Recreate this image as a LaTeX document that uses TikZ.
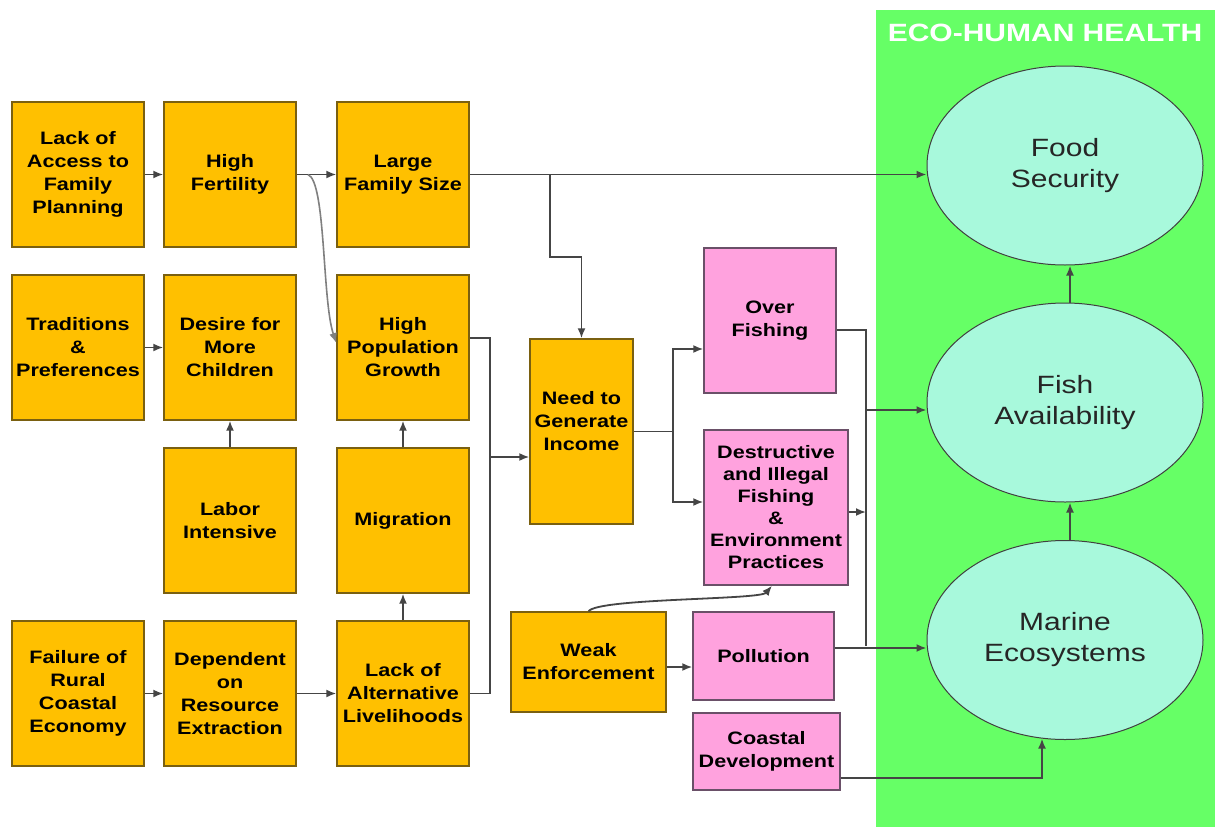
\documentclass[tikz,border=0pt]{standalone}
\usepackage{fontspec}
\setmainfont{Liberation Sans}
\newfontfamily\boxfont[FakeStretch=1.2]{Liberation Sans}
\usetikzlibrary{arrows.meta,shapes.geometric,calc}
\definecolor{orangebox}{HTML}{FFC000}
\definecolor{obord}{HTML}{7A6010}
\definecolor{pinkbox}{HTML}{FFA2DE}
\definecolor{pbord}{HTML}{6A5068}
\definecolor{mint}{HTML}{A8F9DC}
\definecolor{panelgreen}{HTML}{66FF66}
\definecolor{conncol}{HTML}{454545}
\tikzset{
  boxfnt/.style={font={\boxfont\bfseries\fontsize{18}{23}\selectfont}},
  obox/.style={draw=obord, line width=1.4pt, fill=orangebox, minimum width=132pt,
    minimum height=145pt, inner sep=0pt, align=center, text=black, boxfnt},
  pbox/.style={draw=pbord, line width=1.4pt, fill=pinkbox, inner sep=0pt,
    align=center, text=black, boxfnt},
  oval/.style={ellipse, draw=black!75, line width=1pt, fill=mint, minimum width=276pt,
    minimum height=199pt, inner sep=0pt, align=center, text=black!85,
    font={\boxfont\fontsize{25}{31}\selectfont}},
  line/.style={draw=conncol, line width=1.8pt},
  arr/.style={line, -{Latex[length=10pt,width=8pt]}},
}
\begin{document}
\begin{tikzpicture}[x=1pt,y=-1pt]
\useasboundingbox (0,0) rectangle (1215,827);
\fill[white] (0,0) rectangle (1215,827);
% green panel
\fill[panelgreen] (876,10) rectangle (1215,827);
\node[text=white, font={\boxfont\bfseries\fontsize{25}{30}\selectfont}] (title) at (1045,33) {ECO-HUMAN HEALTH};

% orange boxes
\node[obox] (la)   at (78,174.5)  {Lack of\\Access to\\Family\\Planning};
\node[obox] (hf)   at (230,174.5) {High\\Fertility};
\node[obox] (lfs)  at (403,174.5) {Large\\Family Size};
\node[obox] (tp)   at (78,347.5)  {Traditions\\\&\\Preferences};
\node[obox] (dmc)  at (230,347.5) {Desire for\\More\\Children};
\node[obox] (hpg)  at (403,347.5) {High\\Population\\Growth};
\node[obox] (li)   at (230,520.5) {Labor\\Intensive};
\node[obox] (mig)  at (403,520.5) {Migration};
\node[obox] (frce) at (78,693.5)  {Failure of\\Rural\\Coastal\\Economy};
\node[obox] (dre)  at (230,693.5) {Dependent\\on\\Resource\\Extraction};
\node[obox] (lal)  at (403,693.5) {Lack of\\Alternative\\Livelihoods};
\node[obox, minimum width=103pt, minimum height=185pt] (ngi) at (581.5,431.5) {};
\node[align=center, inner sep=0pt, boxfnt] (ngit) at (581.5,421) {Need to\\Generate\\Income};
\node[obox, minimum width=155pt, minimum height=100pt] (we) at (588.5,662) {Weak\\Enforcement};

% pink boxes
\node[pbox, minimum width=132pt, minimum height=145pt] (of) at (770,320.5) {Over\\Fishing};
\node[pbox, minimum width=144pt, minimum height=155pt,
      font={\boxfont\bfseries\fontsize{18}{22}\selectfont}] (dest) at (776,507.5)
      {Destructive\\and Illegal\\Fishing\\\&\\Environment\\Practices};
\node[pbox, minimum width=141pt, minimum height=88pt] (pol) at (763.5,656) {Pollution};
\node[pbox, minimum width=147pt, minimum height=77pt] (cd) at (766.5,751.5) {Coastal\\Development};

% ellipses
\node[oval] (fs) at (1065,165.5) {Food\\Security};
\node[oval] (fa) at (1065,402.5) {Fish\\Availability};
\node[oval] (me) at (1065,640)   {Marine\\Ecosystems};

% junction coordinates
\coordinate (b1) at (550,174.5);
\coordinate (hfs) at (308,174.5);
\coordinate (jn) at (490,457);
\coordinate (ns) at (673,431.5);
\coordinate (rs) at (866,410);
\coordinate (rd) at (866,512);
\coordinate (rb) at (866,646);
\coordinate (cdk) at (1042,778);

% connectors
\draw[arr] (la) -- (hf);
\draw[arr] (hf) -- (lfs);
\draw[draw=gray, line width=1.6pt, -{Latex[length=10pt,width=8pt]}]
  (hfs) .. controls (326,182) and (322,300) .. ([yshift=4.5pt]hpg.west);
\draw[arr] (lfs.east) -- (fs.west |- lfs.east);
\draw[arr] (b1) |- (581.5,257) -- (ngi.north);
\draw[arr] (tp) -- (dmc);
\draw[arr] (li) -- (dmc);
\draw[arr] (frce) -- (dre);
\draw[arr] (dre) -- (lal);
\draw[arr] (lal) -- (mig);
\draw[arr] (mig) -- (hpg);
\draw[line] ([yshift=9.5pt]hpg.east) -| (jn);
\draw[line] (lal.east) -| (jn);
\draw[arr] (jn) -- (ngi.west |- jn);
\draw[line] (ngi.east |- ns) -- (ns);
\draw[arr] (ns) |- ([yshift=-28.5pt]of.west);
\draw[arr] (ns) |- ([yshift=5.5pt]dest.west);
\draw[line] ([yshift=-9.5pt]of.east) -| (rb);
\draw[arr] (rs) -- (fa.west |- rs);
\draw[arr] ([yshift=-4.5pt]dest.east) -- (rd);
\draw[arr] ([yshift=8pt]pol.east) -- (me.west |- 0,648);
\draw[arr] ([yshift=-5pt]we.east) -- (pol.west |- 0,667);
\draw[arr] (we.north) .. controls (598,598) and (760,600) .. ([xshift=-4pt]dest.south);
\draw[arr] ([yshift=-26.5pt]cd.east) -- (cdk) -- ($(me.center)+(-23,98.6)$);
\draw[arr] ([xshift=5pt]me.north) -- ([xshift=5pt]fa.south);
\draw[arr] ([xshift=5pt]fa.north) -- ([xshift=5pt]fs.south);
\end{tikzpicture}
\end{document}
